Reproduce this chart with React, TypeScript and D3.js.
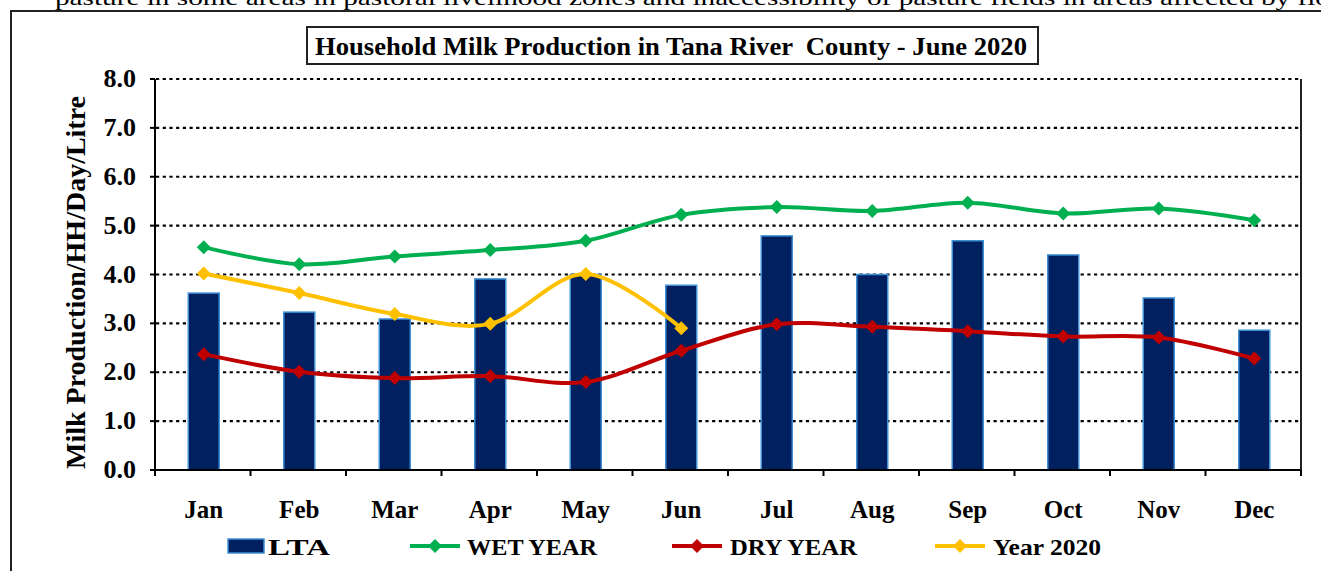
import React from 'react';
import * as d3 from 'd3';

const months = ['Jan', 'Feb', 'Mar', 'Apr', 'May', 'Jun', 'Jul', 'Aug', 'Sep', 'Oct', 'Nov', 'Dec'];
const ltaValues = [3.62, 3.23, 3.09, 3.91, 4.0, 3.78, 4.79, 4.0, 4.69, 4.4, 3.52, 2.86];
const wetYear = [4.56, 4.21, 4.37, 4.5, 4.69, 5.22, 5.38, 5.3, 5.47, 5.25, 5.35, 5.11];
const dryYear = [2.37, 2.01, 1.88, 1.92, 1.8, 2.44, 2.98, 2.93, 2.84, 2.73, 2.71, 2.28];
const year2020 = [4.02, 3.62, 3.19, 2.99, 4.01, 2.9];
const yTicks = [0, 1, 2, 3, 4, 5, 6, 7, 8];

const title = 'Household Milk Production in Tana River  County - June 2020';
const yTitle = 'Milk Production/HH/Day/Litre';
const topLine =
  'pasture in some areas in pastoral livelihood zones and inaccessibility of pasture fields in areas affected by flo';

const serif = 'Liberation Serif';

export default function App() {
  const width = 1321;
  const height = 571;
  const plot = { left: 155, right: 1301, top: 79, bottom: 470 };

  const x = d3.scaleBand<string>().domain(months).range([plot.left, plot.right]);
  const y = d3.scaleLinear().domain([0, 8]).range([plot.bottom, plot.top]);
  const cx = (m: string) => (x(m) as number) + x.bandwidth() / 2 + 1;
  const barW = 31;

  const line = d3
    .line<number>()
    .x((_, i) => cx(months[i]))
    .y((d) => y(d))
    .curve(d3.curveCardinal.tension(0));

  const series = [
    { key: 'wet', values: wetYear, color: '#00B050' },
    { key: 'dry', values: dryYear, color: '#C00000' },
    { key: 'y2020', values: year2020, color: '#FFC000' }
  ];

  const diamond = (px: number, py: number, r: number) =>
    `M${px},${py - r}L${px + r},${py}L${px},${py + r}L${px - r},${py}Z`;

  const legend = [
    { label: 'WET YEAR', color: '#00B050', x0: 410, tx: 467, tw: 130 },
    { label: 'DRY YEAR', color: '#C00000', x0: 672, tx: 730, tw: 127 },
    { label: 'Year 2020', color: '#FFC000', x0: 935, tx: 993, tw: 108 }
  ];

  const txt = { fontFamily: serif };

  return (
    <svg width={width} height={height} style={{ display: 'block', background: '#fff' }}>
      <style>{`body{margin:0}`}</style>
      <text x={55} y={5} fontSize={21} textLength={1275} lengthAdjust="spacingAndGlyphs" style={txt}>
        {topLine}
      </text>
      {/* outer frame */}
      <rect x={11} y={11} width={1330} height={600} fill="none" stroke="#222" strokeWidth={2} />

      {/* title */}
      <rect x={307} y={27} width={731} height={37} fill="#fff" stroke="#222" strokeWidth={2} />
      <text
        x={315}
        y={55}
        fontWeight="bold"
        fontSize={26}
        textLength={712}
        lengthAdjust="spacingAndGlyphs"
        style={{ ...txt, whiteSpace: 'pre' }}
      >
        {title}
      </text>

      {/* gridlines */}
      {yTicks
        .filter((t) => t > 0)
        .map((t) => (
          <line
            key={t}
            x1={plot.left + 1}
            x2={plot.right}
            y1={y(t)}
            y2={y(t)}
            stroke="#000"
            strokeWidth={2.2}
            strokeDasharray="3.2,3.5"
          />
        ))}

      {/* bars */}
      {months.map((m, i) => (
        <rect
          key={m}
          x={cx(m) - barW / 2}
          y={y(ltaValues[i])}
          width={barW}
          height={plot.bottom - y(ltaValues[i])}
          fill="#002060"
          stroke="#3E8FD6"
          strokeWidth={1.5}
        />
      ))}

      {/* axes */}
      <line x1={plot.left} x2={plot.left} y1={plot.top} y2={plot.bottom} stroke="#000" strokeWidth={2} />
      <line x1={plot.right} x2={plot.right} y1={plot.top} y2={plot.bottom} stroke="#222" strokeWidth={2} />
      <line x1={plot.left - 5} x2={plot.right} y1={plot.bottom} y2={plot.bottom} stroke="#000" strokeWidth={2} />
      {yTicks.map((t) => (
        <g key={t}>
          <line x1={plot.left - 5} x2={plot.left} y1={y(t)} y2={y(t)} stroke="#000" strokeWidth={2} />
          <text x={136} y={y(t) + 8} textAnchor="end" fontWeight="bold" fontSize={26} style={txt}>
            {d3.format('.1f')(t)}
          </text>
        </g>
      ))}
      {months.map((m) => (
        <line
          key={m}
          x1={x(m) as number}
          x2={x(m) as number}
          y1={plot.bottom}
          y2={plot.bottom + 6}
          stroke="#000"
          strokeWidth={2}
        />
      ))}
      <line x1={plot.right} x2={plot.right} y1={plot.bottom} y2={plot.bottom + 6} stroke="#000" strokeWidth={2} />
      {months.map((m) => (
        <text key={m} x={cx(m)} y={518} textAnchor="middle" fontWeight="bold" fontSize={25} style={txt}>
          {m}
        </text>
      ))}
      <text
        transform={`translate(85,${(plot.top + plot.bottom) / 2 + 8}) rotate(-90)`}
        textAnchor="middle"
        fontWeight="bold"
        fontSize={28}
        style={txt}
      >
        {yTitle}
      </text>

      {/* lines */}
      {series.map((s) => (
        <g key={s.key}>
          <path d={line(s.values) || ''} fill="none" stroke={s.color} strokeWidth={4} />
          {s.values.map((v, i) => (
            <path key={i} d={diamond(cx(months[i]), y(v), 7)} fill={s.color} />
          ))}
        </g>
      ))}

      {/* legend */}
      <rect x={228} y={539} width={36} height={14} fill="#002060" stroke="#3E8FD6" strokeWidth={1.5} />
      <text
        x={268}
        y={555}
        fontWeight="bold"
        fontSize={24}
        textLength={62}
        lengthAdjust="spacingAndGlyphs"
        style={txt}
      >
        LTA
      </text>
      {legend.map((l) => (
        <g key={l.label}>
          <line x1={l.x0} x2={l.x0 + 50} y1={546} y2={546} stroke={l.color} strokeWidth={4} />
          <path d={diamond(l.x0 + 25, 546, 7)} fill={l.color} />
          <text
            x={l.tx}
            y={555}
            fontWeight="bold"
            fontSize={24}
            textLength={l.tw}
            lengthAdjust="spacingAndGlyphs"
            style={txt}
          >
            {l.label}
          </text>
        </g>
      ))}
    </svg>
  );
}
